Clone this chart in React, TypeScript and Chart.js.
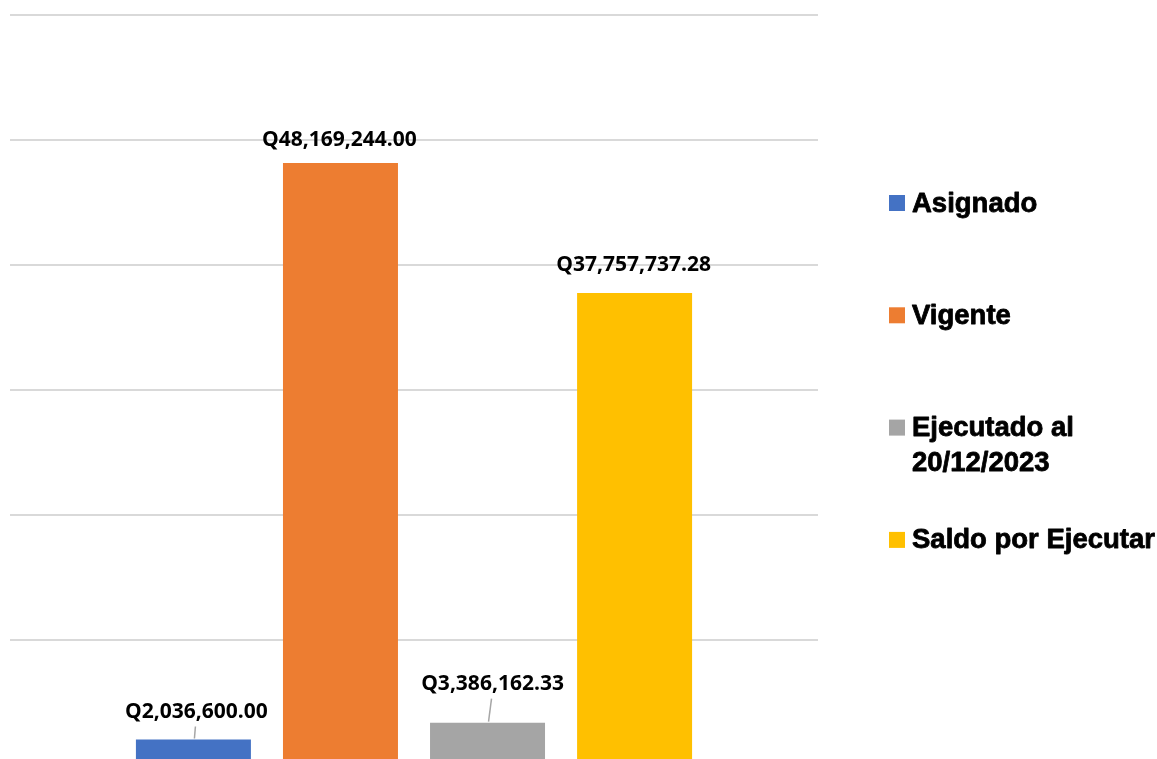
import React, { useEffect, useRef } from "react";
import { Chart, registerables } from "chart.js";

Chart.register(...registerables);

const categories = [""];
const seriesLabels = ["Asignado", "Vigente", "Ejecutado al 20/12/2023", "Saldo por Ejecutar"];
const seriesValues = [2036600.0, 48169244.0, 3386162.33, 37757737.28];
const seriesColors = ["#4472C4", "#ED7D31", "#A5A5A5", "#FFC000"];
const yTicks = [0, 10000000, 20000000, 30000000, 40000000, 50000000, 60000000];

// label styling (pixels above bar top, horizontal nudge, leader line)
const labelOffsetY = [28, 23, 39, 28];
const labelOffsetX = [3, -1, 5, -1];
const labelLeader = [true, false, true, false];

const fmt = (v: number) =>
  "Q" + v.toLocaleString("en-US", { minimumFractionDigits: 2, maximumFractionDigits: 2 });

const dataLabelPlugin = {
  id: "dataLabels",
  afterDatasetsDraw(chart: any) {
    const ctx = chart.ctx;
    ctx.save();
    ctx.font = "bold 21px 'Open Sans'";
    ctx.textAlign = "center";
    ctx.textBaseline = "middle";
    chart.data.datasets.forEach((ds: any, i: number) => {
      const meta = chart.getDatasetMeta(i);
      meta.data.forEach((bar: any, j: number) => {
        const v = ds.data[j];
        const x = bar.x + labelOffsetX[i];
        const y = bar.y - labelOffsetY[i];
        if (labelLeader[i]) {
          ctx.strokeStyle = "#A6A6A6";
          ctx.lineWidth = 1.5;
          ctx.beginPath();
          ctx.moveTo(bar.x + 1, bar.y - 1);
          ctx.lineTo(bar.x + labelOffsetX[i] - 1, y + 15);
          ctx.stroke();
        }
        ctx.fillStyle = "#000000";
        ctx.fillText(fmt(v), x, y);
      });
    });
    ctx.restore();
  },
};

const legendPlugin = {
  id: "sideLegend",
  afterDraw(chart: any) {
    const ctx = chart.ctx;
    ctx.save();
    ctx.font = "bold 27.5px 'Liberation Sans'";
    ctx.textAlign = "left";
    ctx.textBaseline = "middle";
    ctx.lineJoin = "round";
    const boxX = 889;
    const textX = 912;
    const startY = 203;
    const step = 112.3;
    const maxW = 250;
    const lineH = 35;
    chart.data.datasets.forEach((ds: any, i: number) => {
      const cy = startY + i * step;
      ctx.fillStyle = ds.backgroundColor;
      ctx.fillRect(boxX, cy - 8, 16, 16);
      const words = String(ds.label).split(" ");
      const lines: string[] = [];
      let cur = "";
      words.forEach((w) => {
        const test = cur ? cur + " " + w : w;
        if (ctx.measureText(test).width > maxW && cur) {
          lines.push(cur);
          cur = w;
        } else cur = test;
      });
      if (cur) lines.push(cur);
      ctx.fillStyle = "#000000";
      ctx.strokeStyle = "#000000";
      ctx.lineWidth = 0.8;
      lines.forEach((ln, k) => {
        ctx.fillText(ln, textX, cy + k * lineH + 1);
        ctx.strokeText(ln, textX, cy + k * lineH + 1);
      });
    });
    ctx.restore();
  },
};

export default function App() {
  const ref = useRef<HTMLCanvasElement>(null);
  useEffect(() => {
    if (!ref.current) return;
    const chart = new Chart(ref.current, {
      type: "bar",
      data: {
        labels: categories,
        datasets: seriesLabels.map((label, i) => ({
          label,
          data: [seriesValues[i]],
          backgroundColor: seriesColors[i],
          borderWidth: 0,
          barPercentage: 0.782,
          categoryPercentage: 0.728,
        })),
      },
      options: {
        animation: false,
        responsive: false,
        devicePixelRatio: 1,
        layout: { padding: { left: 10, right: 339, top: 15, bottom: 15 } },
        plugins: {
          legend: { display: false },
          tooltip: { enabled: false },
          title: { display: false },
        },
        scales: {
          x: { display: false },
          y: {
            min: 0,
            max: 60000000,
            afterBuildTicks: (axis: any) => {
              axis.ticks = yTicks.map((v) => ({ value: v }));
            },
            ticks: { display: false },
            grid: { color: "#D9D9D9", lineWidth: 2, drawTicks: false },
            border: { display: false },
          },
        },
      },
      plugins: [dataLabelPlugin, legendPlugin],
    });
    return () => chart.destroy();
  }, []);
  return (
    <div
      style={{
        position: "absolute",
        left: 0,
        top: 0,
        width: 1157,
        height: 759,
        overflow: "hidden",
        background: "#ffffff",
      }}
    >
      <canvas ref={ref} width={1157} height={780} style={{ display: "block" }} />
    </div>
  );
}
